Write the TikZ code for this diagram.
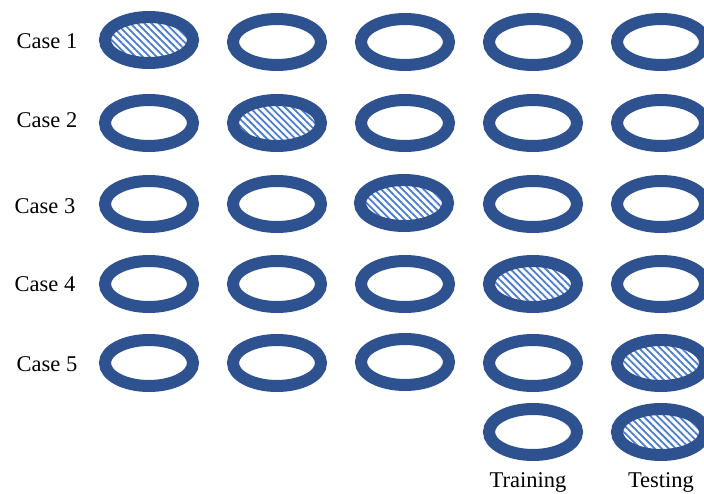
\documentclass[tikz,border=0pt]{standalone}
\usepackage{fontspec}
\setmainfont{Liberation Serif}
\usetikzlibrary{shapes.geometric,patterns.meta}
\definecolor{ringblue}{HTML}{2E5290}
\definecolor{hatchblue}{HTML}{4A7CD2}
\tikzset{
  ring/.style={ellipse, draw=ringblue, line width=12pt, minimum width=88pt, minimum height=46pt, inner sep=0pt},
  hatched/.style={ring, pattern={Lines[angle=-45,distance=5pt,line width=1.8pt]}, pattern color=hatchblue},
  lbl/.style={font=\fontsize{22.5}{26}\selectfont, inner sep=0pt}
}
\begin{document}
\begin{tikzpicture}[x=1pt,y=-1pt]
\useasboundingbox (0,0) rectangle (704,494);
% labels
\node[lbl] (c1) at (47,41) {Case 1};
\node[lbl] (c2) at (47,120) {Case 2};
\node[lbl] (c3) at (45,206) {Case 3};
\node[lbl] (c4) at (45,284) {Case 4};
\node[lbl] (c5) at (47,364) {Case 5};
\node[lbl] (tr) at (528,482) {Training};
\node[lbl] (te) at (661,482) {Testing};
% row 1
\node[hatched] (r11) at (149,40) {};
\node[ring] (r12) at (277,42) {};
\node[ring] (r13) at (405,42) {};
\node[ring] (r14) at (533,42) {};
\node[ring] (r15) at (661,42) {};
% row 2
\node[ring] (r21) at (149,123) {};
\node[hatched] (r22) at (277,123) {};
\node[ring] (r23) at (405,123) {};
\node[ring] (r24) at (533,123) {};
\node[ring] (r25) at (661,123) {};
% row 3
\node[ring] (r31) at (149,204) {};
\node[ring] (r32) at (277,204) {};
\node[hatched] (r33) at (404,203) {};
\node[ring] (r34) at (533,204) {};
\node[ring] (r35) at (661,204) {};
% row 4
\node[ring] (r41) at (149,284) {};
\node[ring] (r42) at (277,284) {};
\node[ring] (r43) at (405,284) {};
\node[hatched] (r44) at (533,284) {};
\node[ring] (r45) at (661,284) {};
% row 5
\node[ring] (r51) at (149,363) {};
\node[ring] (r52) at (277,363) {};
\node[ring] (r53) at (405,362) {};
\node[ring] (r54) at (533,363) {};
\node[hatched] (r55) at (661,363) {};
% row 6
\node[ring] (r64) at (533,432) {};
\node[hatched] (r65) at (661,432) {};
\end{tikzpicture}
\end{document}
